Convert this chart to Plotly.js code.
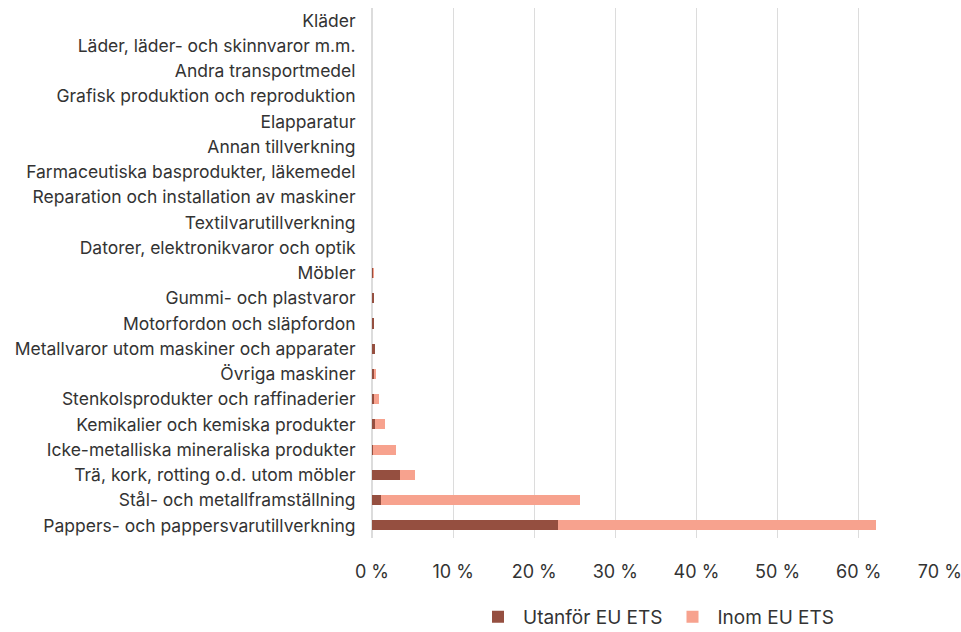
<!DOCTYPE html>
<html>
<head>
<meta charset="utf-8">
<script src="https://cdn.plot.ly/plotly-3.0.1.min.js"></script>
<style>html,body{margin:0;padding:0;background:#fff;}#chart{width:961px;height:632px;}</style>
</head>
<body>
<div id="chart"></div>
<script>
// Categories listed bottom to top
const categories = [
  "Pappers- och pappersvarutillverkning",
  "Stål- och metallframställning",
  "Trä, kork, rotting o.d. utom möbler",
  "Icke-metalliska mineraliska produkter",
  "Kemikalier och kemiska produkter",
  "Stenkolsprodukter och raffinaderier",
  "Övriga maskiner",
  "Metallvaror utom maskiner och apparater",
  "Motorfordon och släpfordon",
  "Gummi- och plastvaror",
  "Möbler",
  "Datorer, elektronikvaror och optik",
  "Textilvarutillverkning",
  "Reparation och installation av maskiner",
  "Farmaceutiska basprodukter, läkemedel",
  "Annan tillverkning",
  "Elapparatur",
  "Grafisk produktion och reproduktion",
  "Andra transportmedel",
  "Läder, läder- och skinnvaror m.m.",
  "Kläder"
];
const utanforEUETS = [22.9, 1.1, 3.4, 0.1, 0.4, 0.2, 0.2, 0.35, 0.2, 0.2, 0.1, 0.04, 0.04, 0.04, 0.04, 0.03, 0.03, 0.03, 0.02, 0.01, 0.01];
const inomEUETS    = [39.2, 24.6, 1.9, 2.85, 1.15, 0.65, 0.35, 0.05, 0.1, 0.1, 0.1, 0.01, 0.01, 0.01, 0.01, 0.0, 0.0, 0.0, 0.0, 0.0, 0.0];
const xTickVals = [0, 10, 20, 30, 40, 50, 60, 70];
const xTickText = xTickVals.map(v => v + " %");
const seriesNames = ["Utanför EU ETS", "Inom EU ETS"];

const font = "Inter, Roboto, 'Liberation Sans', sans-serif";
const data = [
  {type: "bar", orientation: "h", name: seriesNames[0], y: categories, x: utanforEUETS,
   marker: {color: "#954f40"}, hoverinfo: "x+y"},
  {type: "bar", orientation: "h", name: seriesNames[1], y: categories, x: inomEUETS,
   marker: {color: "#f7a28e"}, hoverinfo: "x+y"}
];
const layout = {
  width: 961, height: 632,
  margin: {l: 372, r: 21, t: 8, b: 94, autoexpand: false},
  barmode: "stack",
  bargap: 0.6,
  paper_bgcolor: "#fff", plot_bgcolor: "#fff",
  font: {family: font, size: 17, color: "#333"},
  xaxis: {
    range: [0, 70.02], tickmode: "array", tickvals: xTickVals, ticktext: xTickText,
    ticklabeloverflow: "allow",
    showgrid: true, gridcolor: "#dcdcdc", gridwidth: 1,
    zeroline: true, zerolinecolor: "#dcdcdc", zerolinewidth: 2,
    ticks: "outside", ticklen: 17, tickcolor: "rgba(0,0,0,0)",
    tickfont: {size: 18, color: "#333"}, fixedrange: true
  },
  yaxis: {
    type: "category", automargin: false,
    ticks: "outside", ticklen: 12, tickcolor: "rgba(0,0,0,0)",
    tickfont: {size: 17.5, color: "#333"}, showgrid: false, fixedrange: true
  },
  legend: {orientation: "h", x: 0.5, xanchor: "center", yref: "container", y: 0.024, yanchor: "middle",
    font: {size: 19, color: "#333"}, traceorder: "normal", itemwidth: 40},
  showlegend: true
};
Plotly.newPlot("chart", data, layout, {displayModeBar: false, staticPlot: true});
</script>
</body>
</html>
